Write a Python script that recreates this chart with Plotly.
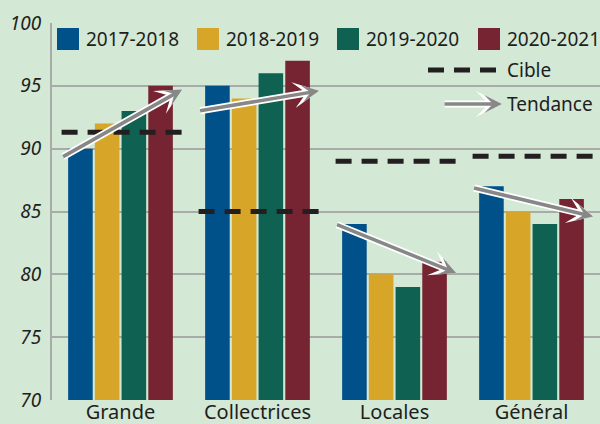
import plotly.graph_objects as go

categories = ["Grande", "Collectrices", "Locales", "Général"]
series_names = ["2017-2018", "2018-2019", "2019-2020", "2020-2021"]
values_2017 = [90, 95, 84, 87]
values_2018 = [92, 94, 80, 85]
values_2019 = [93, 96, 79, 84]
values_2020 = [95, 97, 81, 86]
cible = [91.3, 85.0, 89.0, 89.4]
trend_start = [89.3, 93.0, 84.0, 86.9]
trend_end = [94.7, 94.6, 80.1, 84.6]
y_ticks = [70, 75, 80, 85, 90, 95, 100]

colors = ["#00508a", "#d7a528", "#0f6152", "#772432"]
BG = "#d3e8d5"
GRID = "#a9aba9"
TXT = "#1e1e1e"
FONT = "Noto Sans"

W, H = 600, 424
ML, MR, MT, MB = 52, 0, 23, 24
PW, PH = W - ML - MR, H - MT - MB

def px(x):
    return (x - ML) / PW

def py(y):
    return (H - MB - y) / PH

xs = list(range(len(categories)))
fig = go.Figure()
all_vals = [values_2017, values_2018, values_2019, values_2020]
for name, vals, c in zip(series_names, all_vals, colors):
    fig.add_trace(go.Bar(x=xs, y=vals, name=name, marker=dict(color=c, line=dict(width=0)),
                         showlegend=False))

lo, hi = -0.43, 0.45
for i, c in enumerate(cible):
    fig.add_trace(go.Scatter(x=[i + lo, i + hi], y=[c, c], mode="lines",
                             line=dict(color="#231f20", width=5, dash="16px,10px"),
                             showlegend=False, hoverinfo="skip"))

annotations = []
for i, (s, e) in enumerate(zip(trend_start, trend_end)):
    for col, w, sz in [("white", 7, 0.62), ("#878787", 3.5, 0.85)]:
        annotations.append(dict(x=i + hi, y=e, ax=i + lo, ay=s, xref="x", yref="y",
                                axref="x", ayref="y", showarrow=True, text="",
                                arrowhead=3, arrowwidth=w, arrowsize=sz, arrowcolor=col,
                                standoff=0, startstandoff=0))

shapes = []
sw_x = [57, 197, 337, 478]
for name, c, x0 in zip(series_names, colors, sw_x):
    shapes.append(dict(type="rect", xref="paper", yref="paper", x0=px(x0), x1=px(x0 + 22),
                       y0=py(50), y1=py(28), fillcolor=c, line=dict(width=0)))
    annotations.append(dict(x=px(x0 + 27), y=py(39), xref="paper", yref="paper", text=name,
                            showarrow=False, xanchor="left", yanchor="middle",
                            font=dict(size=19, color=TXT, family=FONT)))

shapes.append(dict(type="line", xref="paper", yref="paper", x0=px(428), x1=px(497),
                   y0=py(70), y1=py(70), line=dict(color="#231f20", width=5, dash="16px,10px")))
annotations.append(dict(x=px(505), y=py(70), xref="paper", yref="paper", text="Cible",
                        showarrow=False, xanchor="left", yanchor="middle",
                        font=dict(size=19, color=TXT, family=FONT)))
for col, w, sz in [("white", 7, 0.62), ("#878787", 3.5, 0.85)]:
    annotations.append(dict(x=px(502), y=py(104), xref="paper", yref="paper", ax=-59, ay=0,
                            showarrow=True, text="", arrowhead=3, arrowwidth=w, arrowsize=sz,
                            arrowcolor=col, standoff=0, startstandoff=0))
annotations.append(dict(x=px(505), y=py(104), xref="paper", yref="paper", text="Tendance",
                        showarrow=False, xanchor="left", yanchor="middle",
                        font=dict(size=19, color=TXT, family=FONT)))

fig.update_layout(
    width=W, height=H, margin=dict(l=ML, r=MR, t=MT, b=MB, pad=0),
    paper_bgcolor=BG, plot_bgcolor=BG,
    barmode="group", bargap=0.22, bargroupgap=0.08,
    shapes=shapes, annotations=annotations,
    xaxis=dict(range=[-0.5, 3.5], tickvals=xs, ticktext=categories, showgrid=False,
               zeroline=False, showline=False, ticks="", automargin=False,
               ticklabelstandoff=-2,
               tickfont=dict(size=20, color=TXT, family=FONT)),
    yaxis=dict(range=[70, 100], tickvals=y_ticks, showgrid=True, gridcolor=GRID, gridwidth=2,
               zeroline=False, showline=True, linecolor=GRID, linewidth=2, ticks="",
               ticklabelstandoff=5, automargin=False,
               tickfont=dict(size=19, color=TXT, family=FONT, style="italic")),
)

page_js = ("document.body.style.margin='0';document.body.style.padding='0';"
           "document.body.style.overflow='hidden';document.body.style.background='%s';" % BG)
fig.write_html("out.html", post_script=page_js, config={"displayModeBar": False})
